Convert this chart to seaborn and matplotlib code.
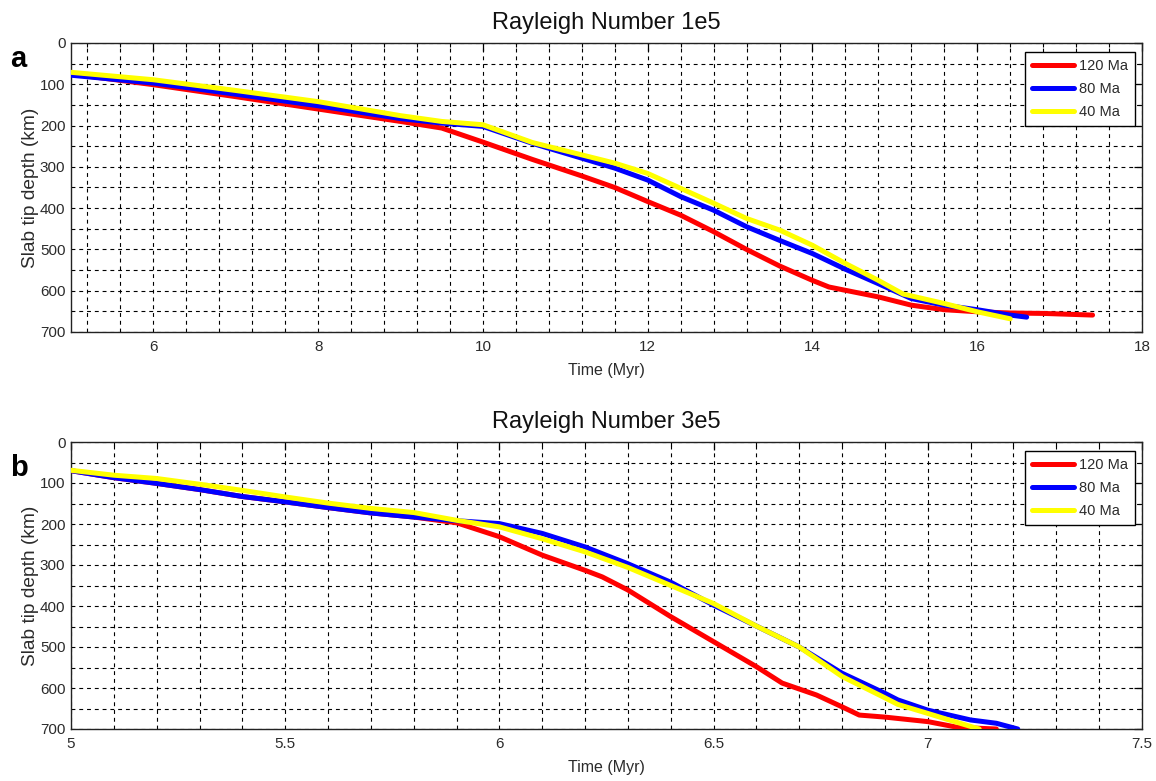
import numpy as np
import pandas as pd
import matplotlib
matplotlib.use("Agg")
import matplotlib.pyplot as plt
from matplotlib.ticker import MultipleLocator
import seaborn as sns

# ---------------- data ----------------
series_names = ["120 Ma", "80 Ma", "40 Ma"]
series_colors = ["#FF0000", "#0000FF", "#FFFF00"]

# Panel a: Rayleigh Number 1e5
a_t_120 = [5.0, 6.0, 7.0, 8.0, 9.0, 9.5, 10.0, 10.6, 11.2, 11.6, 12.0, 12.4, 12.8,
           13.2, 13.6, 14.0, 14.2, 14.4, 14.8, 15.2, 15.6, 16.0, 16.4, 16.8, 17.4]
a_d_120 = [75, 101, 130, 160, 190, 206, 240, 282, 322, 350, 384, 417, 457,
           500, 540, 575, 591, 599, 615, 635, 646, 651, 654, 655, 659]
a_t_80 = [5.0, 6.0, 7.0, 8.0, 9.0, 9.5, 10.0, 10.6, 11.2, 11.6, 12.0, 12.4, 12.8,
          13.2, 13.6, 14.0, 14.4, 14.8, 15.2, 15.6, 16.0, 16.4, 16.6]
a_d_80 = [78, 97, 124, 152, 183, 194, 202, 243, 279, 303, 332, 372, 405,
          445, 478, 510, 548, 583, 619, 635, 646, 659, 664]
a_t_40 = [5.0, 6.0, 7.0, 8.0, 9.0, 9.5, 10.0, 10.6, 11.2, 11.6, 12.0, 12.4, 12.8,
          13.2, 13.6, 14.0, 14.4, 14.8, 15.1, 15.6, 16.0, 16.4]
a_d_40 = [71, 89, 115, 142, 176, 190, 198, 241, 271, 291, 316, 352, 388,
          425, 453, 490, 534, 575, 608, 631, 651, 668]

# Panel b: Rayleigh Number 3e5
b_t_120 = [5.0, 5.1, 5.2, 5.3, 5.4, 5.5, 5.6, 5.7, 5.8, 5.9, 6.0, 6.1, 6.2, 6.24,
           6.3, 6.4, 6.5, 6.6, 6.66, 6.74, 6.8, 6.84, 6.9, 7.0, 7.07, 7.16]
b_d_120 = [70, 87, 101, 116, 133, 146, 160, 173, 183, 197, 231, 276, 313, 329,
           361, 426, 487, 548, 588, 617, 646, 666, 671, 682, 696, 700]
b_t_80 = [5.0, 5.1, 5.2, 5.3, 5.4, 5.5, 5.6, 5.7, 5.8, 5.9, 6.0, 6.1, 6.2, 6.3,
          6.4, 6.5, 6.6, 6.7, 6.8, 6.9, 6.93, 7.0, 7.1, 7.16, 7.21]
b_d_80 = [70, 87, 101, 116, 133, 146, 160, 173, 183, 192, 199, 223, 256, 297,
          342, 398, 449, 500, 564, 613, 629, 654, 678, 686, 700]
b_t_40 = [5.0, 5.1, 5.2, 5.3, 5.4, 5.5, 5.6, 5.7, 5.8, 5.9, 6.0, 6.1, 6.2, 6.3,
          6.4, 6.5, 6.6, 6.7, 6.8, 6.9, 6.93, 7.0, 7.05, 7.12]
b_d_40 = [69, 81, 89, 103, 118, 134, 149, 162, 172, 191, 207, 236, 268, 306,
          350, 394, 449, 500, 572, 624, 640, 662, 678, 700]

x_label = "Time (Myr)"
y_label = "Slab tip depth (km)"
titles = ["Rayleigh Number 1e5", "Rayleigh Number 3e5"]
panel_letters = ["a", "b"]


def make_df(ts, ds):
    frames = []
    for name, t, d in zip(series_names, ts, ds):
        frames.append(pd.DataFrame({"t": t, "d": d, "age": name}))
    return pd.concat(frames, ignore_index=True)


df_a = make_df([a_t_120, a_t_80, a_t_40], [a_d_120, a_d_80, a_d_40])
df_b = make_df([b_t_120, b_t_80, b_t_40], [b_d_120, b_d_80, b_d_40])

# ---------------- style ----------------
sns.set_theme(style="white")
plt.rcParams["font.family"] = ["Liberation Sans", "DejaVu Sans"]
txt_col = "#2b2b2b"

W, H = 1156, 781
fig = plt.figure(figsize=(W / 100, H / 100), dpi=100)
fig.patch.set_facecolor("white")


def px_axes(left, top, right, bottom):
    return fig.add_axes([left / W, 1 - bottom / H, (right - left) / W, (bottom - top) / H])


ax_a = px_axes(71, 43, 1142, 332)
ax_b = px_axes(71, 442, 1142, 729)

configs = [
    (ax_a, df_a, (5, 18), 0.4, ["6", "8", "10", "12", "14", "16", "18"], [6, 8, 10, 12, 14, 16, 18]),
    (ax_b, df_b, (5, 7.5), 0.1, ["5", "5.5", "6", "6.5", "7", "7.5"], [5, 5.5, 6, 6.5, 7, 7.5]),
]

palette = dict(zip(series_names, series_colors))

for i, (ax, df, xlim, minor, xtl, xt) in enumerate(configs):
    ax.set_facecolor("white")
    sns.lineplot(data=df, x="t", y="d", hue="age", hue_order=series_names,
                 palette=palette, sort=False, estimator=None, linewidth=3.6,
                 legend=False, ax=ax, zorder=3)
    ax.set_xlim(*xlim)
    ax.set_ylim(700, 0)
    ax.set_xticks(xt)
    ax.set_xticklabels(xtl)
    ax.xaxis.set_minor_locator(MultipleLocator(minor))
    ax.set_yticks(np.arange(0, 701, 100))
    ax.yaxis.set_minor_locator(MultipleLocator(50))
    ax.grid(True, which="both", color="black", linestyle=(0, (3.5, 3.5)),
            linewidth=0.8, zorder=1)
    ax.set_axisbelow(True)
    ax.tick_params(which="major", direction="in", length=6, width=0.9, color="black",
                   top=True, right=True, labelsize=11, labelcolor=txt_col)
    ax.tick_params(axis="x", which="major", pad=6)
    ax.tick_params(axis="y", which="major", pad=4)
    ax.tick_params(which="minor", direction="in", length=3, width=0.8, color="black",
                   top=True, right=True)
    for s in ax.spines.values():
        s.set_visible(True)
        s.set_color("#222222")
        s.set_linewidth(1.0)
    ax.set_xlabel(x_label, fontsize=11.5, color=txt_col, labelpad=6)
    ax.set_ylabel(y_label, fontsize=13.8, color=txt_col, labelpad=1)
    ax.set_title(titles[i], fontsize=17, color="#111111", pad=10)

    handles = ax.lines[:3]
    leg = ax.legend(handles, series_names, loc="upper right",
                    bbox_to_anchor=(0.9935, 0.97), fontsize=10.5,
                    frameon=True, fancybox=False, framealpha=1,
                    edgecolor="black", handlelength=2.9, handletextpad=0.3,
                    borderpad=0.5, labelspacing=0.62, borderaxespad=0)
    leg.get_frame().set_linewidth(1.0)
    for t in leg.get_texts():
        t.set_color(txt_col)

fig.text(10 / W, 1 - 59 / H, panel_letters[0], fontsize=21, fontweight="bold",
         color="black", va="center", ha="left")
fig.text(10 / W, 1 - 468 / H, panel_letters[1], fontsize=21, fontweight="bold",
         color="black", va="center", ha="left")

fig.savefig("out.png", dpi=100, facecolor="white")
